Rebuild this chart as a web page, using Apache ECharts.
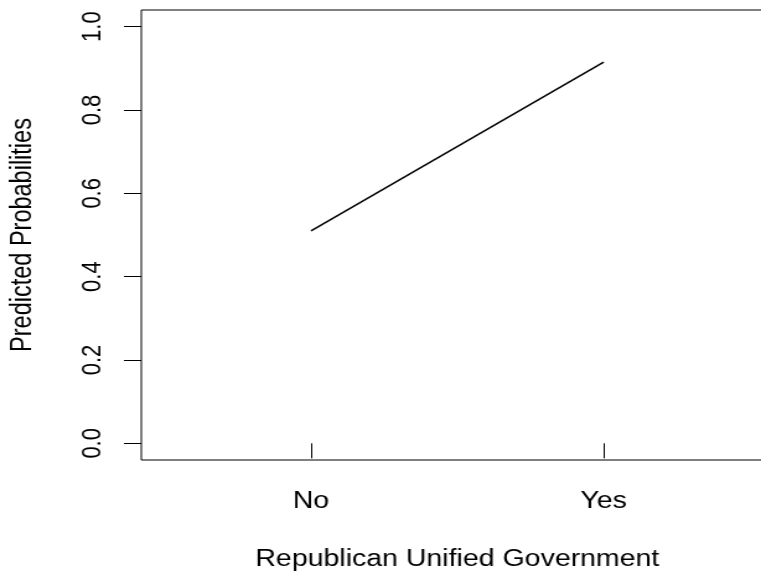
<!DOCTYPE html>
<html>
<head>
<meta charset="utf-8">
<script src="https://cdn.jsdelivr.net/npm/echarts@6/dist/echarts.min.js"></script>
<style>
html,body{margin:0;padding:0;background:#fff;overflow:hidden;width:761px;height:577px;}
#chart{width:614px;height:577px;transform:scaleX(1.2394);transform-origin:0 0;}
</style>
</head>
<body>
<div id="chart"></div>
<script>
const categories = ['No', 'Yes'];
const categoryPositions = [1, 2];
const predicted = [0.51, 0.915];
const yTicks = [0, 0.2, 0.4, 0.6, 0.8, 1.0];

const chart = echarts.init(document.getElementById('chart'), null, {renderer: 'canvas'});
const font = 'Liberation Sans, Arial, Helvetica, sans-serif';
chart.setOption({
  animation: false,
  backgroundColor: '#fff',
  grid: {left: 114, top: 10, width: 510, height: 450, show: true, borderColor: '#000', borderWidth: 1,
    backgroundColor: 'transparent', containLabel: false, outerBoundsMode: 'none'},
  xAxis: {
    type: 'value', min: 0.42, max: 2.58,
    axisLine: {show: false},
    splitLine: {show: false},
    axisTick: {show: true, customValues: categoryPositions, length: 15, lineStyle: {color: '#000', width: 1}},
    axisLabel: {customValues: categoryPositions, margin: 30, color: '#000', fontSize: 23, fontFamily: font,
      formatter: v => categories[categoryPositions.indexOf(v)] || ''},
    name: 'Republican Unified Government', nameLocation: 'middle', nameGap: 88,
    nameTextStyle: {color: '#000', fontSize: 23, fontFamily: font}
  },
  yAxis: {
    type: 'value', min: -0.04, max: 1.04,
    axisLine: {show: false},
    splitLine: {show: false},
    axisTick: {show: true, customValues: yTicks, length: 14, lineStyle: {color: '#000', width: 1}},
    axisLabel: {customValues: yTicks, rotate: 90, margin: 28, color: '#000', fontSize: 22, fontFamily: font,
      formatter: v => v.toFixed(1)},
    name: 'Predicted Probabilities', nameLocation: 'middle', nameGap: 83, nameRotate: 90,
    nameTextStyle: {color: '#000', fontSize: 23.5, fontFamily: font}
  },
  series: [{
    type: 'line',
    data: categoryPositions.map((x, i) => [x, predicted[i]]),
    showSymbol: false,
    lineStyle: {color: '#000', width: 1.5},
    silent: true
  }]
});
</script>
</body>
</html>
